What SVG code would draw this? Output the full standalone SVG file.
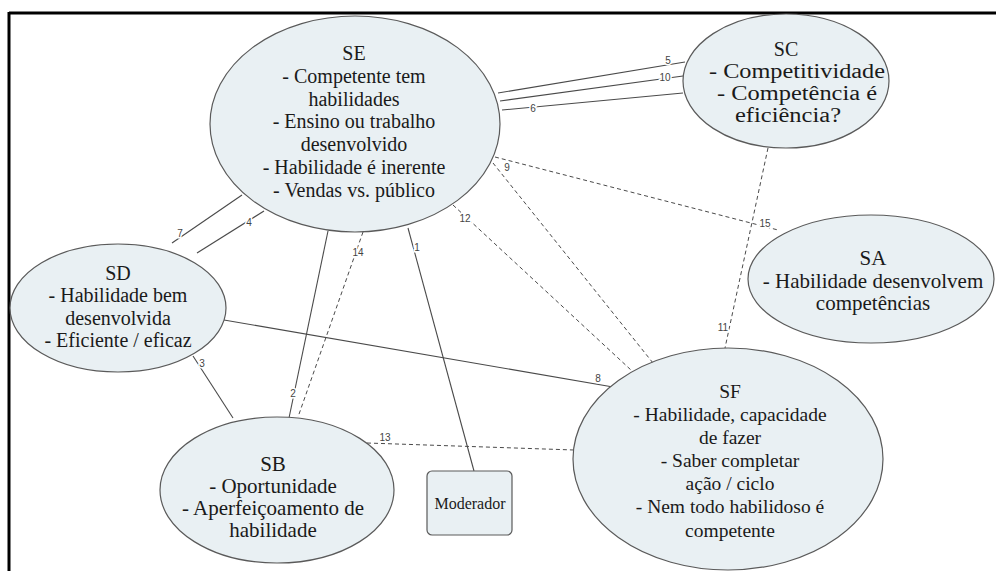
<svg xmlns="http://www.w3.org/2000/svg" width="996" height="571" viewBox="0 0 996 571">
<style>
.node{fill:#e9f0f3;stroke:#5a5a5a;stroke-width:1.2}
.t{font-size:20px;fill:#1a1a1a;text-anchor:middle}
.c{stroke:#4a4a4a;stroke-width:1.1;fill:none}
.d{stroke:#4a4a4a;stroke-width:1;fill:none;stroke-dasharray:4 3}
.l{font-size:10px;fill:#444;text-anchor:middle;stroke:#fff;stroke-width:3;paint-order:stroke}
</style>
<rect x="0" y="0" width="996" height="571" fill="#fff"/>
<line x1="9" y1="13" x2="996" y2="13" stroke="#000" stroke-width="3"/>
<line x1="9" y1="12" x2="9" y2="571" stroke="#000" stroke-width="3"/>
<g id="connectors" font-family="Liberation Sans, Arial, sans-serif">
<line class="c" x1="408" y1="228" x2="474" y2="471"/>
<line class="c" x1="328" y1="231" x2="289" y2="418"/>
<line class="d" x1="363" y1="232" x2="298" y2="417"/>
<line class="c" x1="193" y1="356" x2="233" y2="418"/>
<line class="c" x1="197" y1="253" x2="264" y2="211"/>
<line class="c" x1="172" y1="243" x2="242" y2="195"/>
<line class="c" x1="498" y1="93" x2="685" y2="62"/>
<line class="c" x1="500" y1="101" x2="683" y2="76"/>
<line class="c" x1="502" y1="110" x2="683" y2="93"/>
<line class="d" x1="493" y1="163" x2="653" y2="363"/>
<line class="d" x1="495" y1="157" x2="778" y2="230"/>
<line class="d" x1="768" y1="148" x2="725" y2="348"/>
<line class="d" x1="453" y1="205" x2="631" y2="370"/>
<line class="c" x1="224" y1="320" x2="613" y2="387"/>
<line class="d" x1="367" y1="443" x2="574" y2="450"/>
<text class="l" x="417" y="251">1</text>
<text class="l" x="293" y="397">2</text>
<text class="l" x="202" y="367">3</text>
<text class="l" x="249" y="226">4</text>
<text class="l" x="668" y="64">5</text>
<text class="l" x="533" y="112">6</text>
<text class="l" x="180" y="237">7</text>
<text class="l" x="598" y="382">8</text>
<text class="l" x="507" y="171">9</text>
<text class="l" x="665" y="81">10</text>
<text class="l" x="723" y="331">11</text>
<text class="l" x="465" y="222">12</text>
<text class="l" x="385" y="441">13</text>
<text class="l" x="358" y="256">14</text>
<text class="l" x="765" y="227">15</text>
</g>
<g id="SE" font-family="Liberation Serif, Times New Roman, serif">
<ellipse class="node" cx="355" cy="124" rx="145" ry="108"/>
<text class="t"><tspan x="354" y="60">SE</tspan><tspan x="354" y="82.8">- Competente tem</tspan><tspan x="354" y="105.6">habilidades</tspan><tspan x="354" y="128.4">- Ensino ou trabalho</tspan><tspan x="354" y="151.2">desenvolvido</tspan><tspan x="354" y="174">- Habilidade é inerente</tspan><tspan x="354" y="196.8">- Vendas vs. público</tspan></text>
</g>
<g id="SC" font-family="Liberation Serif, Times New Roman, serif">
<ellipse class="node" cx="786" cy="81" rx="103" ry="67"/>
<text class="t" x="786" y="56">SC</text>
<text class="t" x="797" y="78" textLength="176" lengthAdjust="spacingAndGlyphs">- Competitividade</text>
<text class="t" x="797" y="100" textLength="160" lengthAdjust="spacingAndGlyphs">- Competência é</text>
<text class="t" x="788" y="122" textLength="106" lengthAdjust="spacingAndGlyphs">eficiência?</text>
</g>
<g id="SA" font-family="Liberation Serif, Times New Roman, serif">
<ellipse class="node" cx="871" cy="279" rx="123" ry="64"/>
<text class="t" style="font-size:21px"><tspan x="873" y="265">SA</tspan><tspan x="873" y="288">- Habilidade desenvolvem</tspan><tspan x="873" y="310">competências</tspan></text>
</g>
<g id="SD" font-family="Liberation Serif, Times New Roman, serif">
<ellipse class="node" cx="118" cy="308" rx="108" ry="64"/>
<text class="t"><tspan x="118" y="280">SD</tspan><tspan x="118" y="302.3">- Habilidade bem</tspan><tspan x="118" y="324.6">desenvolvida</tspan><tspan x="118" y="347">- Eficiente / eficaz</tspan></text>
</g>
<g id="SB" font-family="Liberation Serif, Times New Roman, serif">
<ellipse class="node" cx="277" cy="490" rx="117" ry="73"/>
<text class="t" style="font-size:21px"><tspan x="273" y="471">SB</tspan><tspan x="273" y="493">- Oportunidade</tspan><tspan x="273" y="515">- Aperfeiçoamento de</tspan><tspan x="273" y="537">habilidade</tspan></text>
</g>
<g id="SF" font-family="Liberation Serif, Times New Roman, serif">
<ellipse class="node" cx="728" cy="459" rx="155" ry="111"/>
<text class="t" style="font-size:19.5px"><tspan x="730" y="398">SF</tspan><tspan x="730" y="421">- Habilidade, capacidade</tspan><tspan x="730" y="444">de fazer</tspan><tspan x="730" y="467">- Saber completar</tspan><tspan x="730" y="490">ação / ciclo</tspan><tspan x="730" y="513">- Nem todo habilidoso é</tspan><tspan x="730" y="537">competente</tspan></text>
</g>
<g id="Moderador" font-family="Liberation Serif, Times New Roman, serif">
<rect class="node" x="427" y="471" width="85" height="64" rx="5"/>
<text class="t" x="470" y="509" style="font-size:16px">Moderador</text>
</g>
</svg>
